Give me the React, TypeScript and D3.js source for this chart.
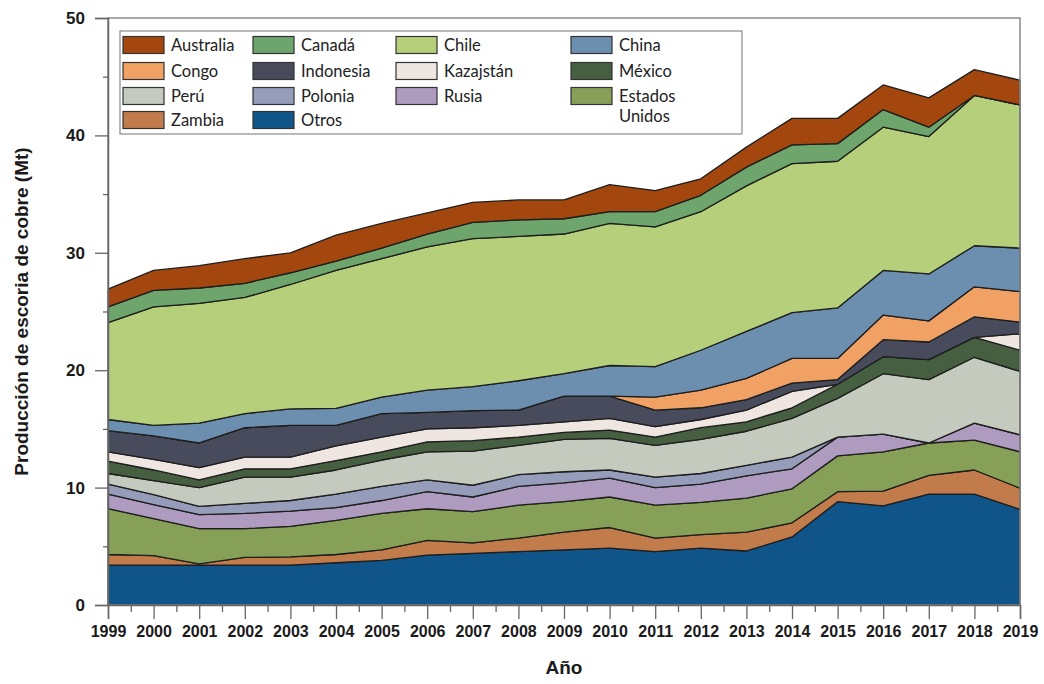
import { useEffect, useRef } from "react";
import * as d3 from "d3";

// años
const years = [1999, 2000, 2001, 2002, 2003, 2004, 2005, 2006, 2007, 2008, 2009, 2010, 2011, 2012, 2013, 2014, 2015, 2016, 2017, 2018, 2019];

// producción por país (Mt)
const otros = [3.4, 3.4, 3.4, 3.4, 3.4, 3.6, 3.8, 4.25, 4.4, 4.55, 4.7, 4.85, 4.55, 4.85, 4.6, 5.8, 8.8, 8.45, 9.45, 9.45, 8.15];
const zambia = [0.9, 0.8, 0.1, 0.65, 0.7, 0.7, 0.9, 1.25, 0.9, 1.15, 1.5, 1.75, 1.15, 1.15, 1.6, 1.2, 0.85, 1.25, 1.6, 2.05, 1.8];
const eeuu = [3.9, 3.15, 3.0, 2.45, 2.6, 2.9, 3.1, 2.7, 2.65, 2.8, 2.6, 2.6, 2.8, 2.75, 2.9, 2.9, 3.05, 3.35, 2.75, 2.55, 3.1];
const rusia = [1.25, 1.2, 1.2, 1.3, 1.3, 1.1, 1.1, 1.45, 1.25, 1.6, 1.6, 1.6, 1.5, 1.55, 1.9, 1.7, 1.6, 1.5, 0, 1.45, 1.45];
const polonia = [0.85, 0.85, 0.7, 0.85, 0.9, 1.15, 1.2, 1.0, 1.0, 1.0, 0.95, 0.7, 0.9, 0.9, 0.9, 1.0, 0, 0, 0, 0, 0];
const peru = [0.9, 1.2, 1.6, 2.25, 2.0, 2.05, 2.25, 2.4, 2.9, 2.5, 2.75, 2.7, 2.7, 2.9, 2.9, 3.3, 3.3, 5.15, 5.4, 5.6, 5.4];
const mexico = [1.05, 0.9, 0.65, 0.7, 0.7, 0.8, 0.7, 0.85, 0.9, 0.7, 0.6, 0.7, 0.7, 1.0, 0.8, 0.9, 1.2, 1.45, 1.7, 1.7, 1.8];
const kazajstan = [0.8, 0.9, 1.05, 1.0, 1.0, 1.25, 1.25, 1.1, 1.1, 1.0, 0.9, 1.0, 0.9, 0.7, 1.0, 1.4, 0, 0, 0, 0, 1.4];
const indonesia = [1.8, 2.0, 2.1, 2.5, 2.7, 1.75, 2.0, 1.4, 1.45, 1.3, 2.2, 1.9, 1.4, 1.0, 0.9, 0.7, 0.4, 1.45, 1.5, 1.75, 1.0];
const congo = [0, 0, 0, 0, 0, 0, 0, 0, 0, 0, 0, 0, 1.1, 1.5, 1.8, 2.1, 1.8, 2.1, 1.8, 2.55, 2.6];
const china = [0.95, 0.9, 1.7, 1.2, 1.4, 1.45, 1.4, 1.9, 2.05, 2.5, 1.9, 2.6, 2.6, 3.4, 4.0, 3.9, 4.3, 3.8, 4.0, 3.5, 3.7];
const chile = [8.25, 10.1, 10.2, 9.9, 10.6, 11.75, 11.8, 12.2, 12.6, 12.3, 11.9, 12.1, 11.9, 11.8, 12.4, 12.7, 12.5, 12.2, 11.7, 12.8, 12.2];
const canada = [1.35, 1.4, 1.3, 1.2, 1.0, 0.8, 0.9, 1.1, 1.4, 1.4, 1.3, 1.0, 1.3, 1.4, 1.6, 1.6, 1.5, 1.5, 0.8, 0, 0];
const australia = [1.5, 1.7, 1.9, 2.1, 1.7, 2.2, 2.1, 1.8, 1.7, 1.7, 1.6, 2.3, 1.8, 1.4, 1.7, 2.25, 2.15, 2.1, 2.5, 2.2, 2.1];

// orden de apilado (de abajo hacia arriba)
const stackKeys = ["Otros", "Zambia", "Estados Unidos", "Rusia", "Polonia", "Perú", "México", "Kazajstán", "Indonesia", "Congo", "China", "Chile", "Canadá", "Australia"];
const seriesValues = [otros, zambia, eeuu, rusia, polonia, peru, mexico, kazajstan, indonesia, congo, china, chile, canada, australia];

const colors: Record<string, string> = {
  Australia: "#a3470f",
  Congo: "#f0a163",
  "Perú": "#c4cabd",
  Zambia: "#c27b4b",
  "Canadá": "#6ea56c",
  Indonesia: "#474b5c",
  Polonia: "#959dba",
  Otros: "#105589",
  Chile: "#b6cf7b",
  "Kazajstán": "#efe5e1",
  Rusia: "#ae9bbf",
  China: "#6c8fb0",
  "México": "#475f41",
  "Estados Unidos": "#86a157",
};

// leyenda por columnas
const legendCols = [
  ["Australia", "Congo", "Perú", "Zambia"],
  ["Canadá", "Indonesia", "Polonia", "Otros"],
  ["Chile", "Kazajstán", "Rusia"],
  ["China", "México", "Estados Unidos"],
];

const yTicks = [0, 10, 20, 30, 40, 50];

export default function App() {
  const svgRef = useRef<SVGSVGElement>(null);

  useEffect(() => {
    if (!svgRef.current) return;
    const W = 1044, H = 684;
    const left = 108, right = 1020, top = 18, bottom = 605;

    const svg = d3.select(svgRef.current);
    svg.selectAll("*").remove();
    svg.attr("width", W).attr("height", H);

    const data = years.map((yr, i) => {
      const row: any = { year: yr };
      stackKeys.forEach((k, j) => (row[k] = seriesValues[j][i]));
      return row;
    });

    const x = d3.scaleLinear().domain([1999, 2019]).range([left, right]);
    const y = d3.scaleLinear().domain([0, 50]).range([bottom, top]);

    const stacked = d3.stack<any>().keys(stackKeys)(data);

    const area = d3
      .area<any>()
      .x((d) => x(d.data.year))
      .y0((d) => y(d[0]))
      .y1((d) => y(d[1]))
      .curve(d3.curveLinear);

    svg
      .append("g")
      .selectAll("path")
      .data(stacked)
      .join("path")
      .attr("fill", (d) => colors[d.key])
      .attr("stroke", "#1e1e1e")
      .attr("stroke-width", 1.3)
      .attr("stroke-linejoin", "round")
      .attr("d", area);

    // marco
    svg
      .append("rect")
      .attr("x", left)
      .attr("y", top)
      .attr("width", right - left)
      .attr("height", bottom - top)
      .attr("fill", "none")
      .attr("stroke", "#8a8a8a")
      .attr("stroke-width", 1.5);

    const font = "'Liberation Sans', Arial, sans-serif";

    // eje y
    const yAxis = svg.append("g").attr("transform", `translate(${left},0)`);
    yAxis
      .call(d3.axisLeft(y).tickValues(yTicks).tickSize(13).tickPadding(10).tickFormat(d3.format("d")))
      .call((g) => g.select(".domain").attr("stroke", "#666").attr("stroke-width", 1.5))
      .call((g) => g.selectAll(".tick line").attr("stroke", "#666").attr("stroke-width", 1.3))
      .call((g) =>
        g
          .selectAll(".tick text")
          .attr("font-family", font)
          .attr("font-weight", "bold")
          .attr("font-size", 17)
          .attr("fill", "#1a1a1a")
      );
    yAxis
      .append("g")
      .call(d3.axisLeft(y).tickValues([5, 15, 25, 35, 45]).tickSize(5).tickFormat(() => ""))
      .call((g) => g.select(".domain").remove())
      .call((g) => g.selectAll(".tick line").attr("stroke", "#666").attr("stroke-width", 1.3));

    // eje x
    const xAxis = svg.append("g").attr("transform", `translate(0,${bottom})`);
    xAxis
      .call(d3.axisBottom(x).tickValues(years).tickSize(14).tickPadding(7).tickFormat(d3.format("d")))
      .call((g) => g.select(".domain").attr("stroke", "#666").attr("stroke-width", 1.5))
      .call((g) => g.selectAll(".tick line").attr("stroke", "#666").attr("stroke-width", 1.3))
      .call((g) =>
        g
          .selectAll(".tick text")
          .attr("font-family", font)
          .attr("font-weight", "bold")
          .attr("font-size", 16)
          .attr("fill", "#1a1a1a")
      );
    xAxis
      .append("g")
      .call(d3.axisBottom(x).tickValues(years.slice(0, -1).map((v) => v + 0.5)).tickSize(7).tickFormat(() => ""))
      .call((g) => g.select(".domain").remove())
      .call((g) => g.selectAll(".tick line").attr("stroke", "#666").attr("stroke-width", 1.3));

    // títulos
    svg
      .append("text")
      .attr("x", (left + right) / 2)
      .attr("y", 674)
      .attr("text-anchor", "middle")
      .attr("font-family", font)
      .attr("font-weight", "bold")
      .attr("font-size", 19)
      .attr("fill", "#1a1a1a")
      .text("Año");
    svg
      .append("text")
      .attr("transform", `translate(28,${(top + bottom) / 2}) rotate(-90)`)
      .attr("text-anchor", "middle")
      .attr("font-family", font)
      .attr("font-weight", "bold")
      .attr("font-size", 19)
      .attr("fill", "#1a1a1a")
      .text("Producción de escoria de cobre (Mt)");

    // leyenda
    const lg = svg.append("g");
    lg.append("rect")
      .attr("x", 120)
      .attr("y", 31)
      .attr("width", 622)
      .attr("height", 103)
      .attr("fill", "#fff")
      .attr("stroke", "#8a8a8a")
      .attr("stroke-width", 1.2);
    const colX = [123, 253, 396, 571];
    const rowY = [45, 71, 96, 120];
    legendCols.forEach((col, ci) => {
      col.forEach((name, ri) => {
        lg.append("rect")
          .attr("x", colX[ci])
          .attr("y", rowY[ri] - 8.5)
          .attr("width", 41)
          .attr("height", 17)
          .attr("fill", colors[name])
          .attr("stroke", "#333")
          .attr("stroke-width", 1.2);
        const lines = name === "Estados Unidos" ? ["Estados", "Unidos"] : [name];
        lines.forEach((ln, li) => {
          lg.append("text")
            .attr("x", colX[ci] + 48)
            .attr("y", rowY[ri] + 6 + li * 20)
            .attr("font-family", "Lato, sans-serif")
            .attr("font-size", 16.5)
            .attr("fill", "#222")
            .text(ln);
        });
      });
    });
  }, []);

  return <svg ref={svgRef} style={{ position: "absolute", left: 0, top: 0 }} />;
}
